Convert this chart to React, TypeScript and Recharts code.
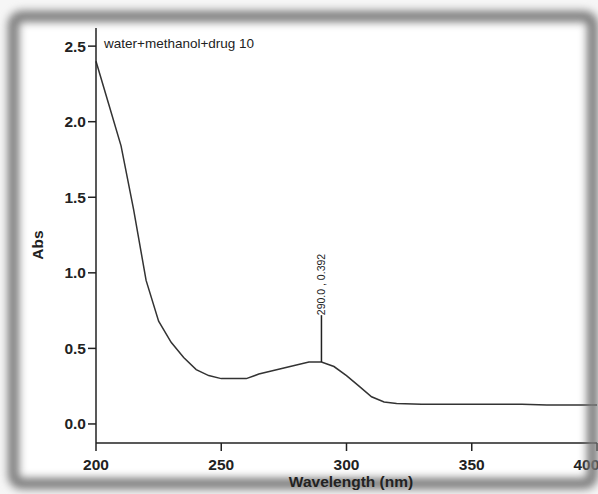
import React from "react";
import {
  LineChart,
  Line,
  XAxis,
  YAxis,
  ReferenceLine,
  ReferenceDot,
} from "recharts";

// wavelength (nm) and absorbance
const wavelengths = [
  200, 205, 210, 215, 220, 225, 230, 235, 240, 245, 250, 255, 260, 265, 270,
  275, 280, 285, 290, 295, 300, 305, 310, 315, 320, 330, 340, 350, 360, 370,
  380, 390, 400,
];
const absorbance = [
  2.4, 2.12, 1.84, 1.42, 0.95, 0.68, 0.54, 0.44, 0.36, 0.32, 0.3, 0.3, 0.3,
  0.33, 0.35, 0.37, 0.39, 0.41, 0.41, 0.38, 0.32, 0.25, 0.18, 0.145, 0.135,
  0.13, 0.13, 0.13, 0.13, 0.13, 0.125, 0.125, 0.125,
];
const xTicks = [200, 250, 300, 350, 400];
const yTicks = [0, 0.5, 1, 1.5, 2, 2.5];
const peakX = 290;
const peakTop = 0.72;
const peakLabel = "290.0 , 0.392";
const sampleName = "water+methanol+drug 10";

const FONT = "'Liberation Sans', Arial, sans-serif";
const INK = "#222";

export default function App() {
  const data = wavelengths.map((w, i) => ({ w, abs: absorbance[i] }));
  const peakY = absorbance[wavelengths.indexOf(peakX)];

  const tickStyle = { fill: INK, fontSize: 15.5, fontWeight: 700, fontFamily: FONT };

  return (
    <div
      style={{
        position: "fixed",
        left: 0,
        top: 0,
        width: 598,
        height: 494,
        overflow: "hidden",
        background: "#f6f6f6",
        fontFamily: FONT,
      }}
    >
      <div
        style={{
          position: "absolute",
          left: 14,
          top: 17,
          width: 578,
          height: 465,
          background: "#fff",
        }}
      />
      <div style={{ position: "absolute", left: 0, top: 0 }}>
        <LineChart
          width={598}
          height={494}
          data={data}
          margin={{ top: 28, right: 1, left: 56, bottom: 0 }}
        >
          <XAxis
            dataKey="w"
            type="number"
            domain={[200, 400]}
            ticks={xTicks}
            tick={tickStyle}
            tickSize={8}
            tickMargin={8}
            height={51}
            axisLine={{ stroke: INK, strokeWidth: 1.5 }}
            tickLine={{ stroke: INK, strokeWidth: 1.5 }}
          />
          <YAxis
            type="number"
            domain={[-0.126, 2.62]}
            ticks={yTicks}
            tickFormatter={(v: number) => v.toFixed(1)}
            tick={tickStyle}
            tickSize={8}
            tickMargin={2}
            width={40}
            axisLine={{ stroke: INK, strokeWidth: 1.5 }}
            tickLine={{ stroke: INK, strokeWidth: 1.5 }}
          />
          <Line
            type="linear"
            dataKey="abs"
            stroke="#333"
            strokeWidth={1.5}
            dot={false}
            isAnimationActive={false}
          />
          <ReferenceLine
            segment={[
              { x: peakX, y: peakY },
              { x: peakX, y: peakTop },
            ]}
            stroke={INK}
            strokeWidth={1.5}
          />
          <ReferenceDot
            x={peakX}
            y={peakTop}
            r={0}
            shape={(p: any) => (
              <text
                x={p.cx}
                y={p.cy}
                transform={`rotate(-90 ${p.cx} ${p.cy})`}
                textAnchor="start"
                dominantBaseline="central"
                fontSize={10.5}
                fontFamily={FONT}
                fill={INK}
              >
                {peakLabel}
              </text>
            )}
          />
        </LineChart>
      </div>
      <div
        style={{
          position: "absolute",
          left: 104,
          top: 36,
          fontSize: 13.5,
          color: INK,
          whiteSpace: "nowrap",
        }}
      >
        {sampleName}
      </div>
      <div
        style={{
          position: "absolute",
          left: 38,
          top: 245,
          fontSize: 15.5,
          fontWeight: 700,
          color: INK,
          transform: "translate(-50%, -50%) rotate(-90deg)",
        }}
      >
        Abs
      </div>
      {/* blurred photo frame */}
      <div
        style={{
          position: "absolute",
          left: 8,
          top: 11,
          width: 590,
          height: 478,
          boxSizing: "border-box",
          border: "11px solid #7a7a7a",
          borderRadius: 14,
          filter: "blur(4px)",
          pointerEvents: "none",
        }}
      />
      <div
        style={{
          position: "absolute",
          left: 351,
          top: 482,
          fontSize: 15.5,
          fontWeight: 700,
          color: INK,
          whiteSpace: "nowrap",
          transform: "translate(-50%, -50%)",
        }}
      >
        Wavelength (nm)
      </div>
    </div>
  );
}
